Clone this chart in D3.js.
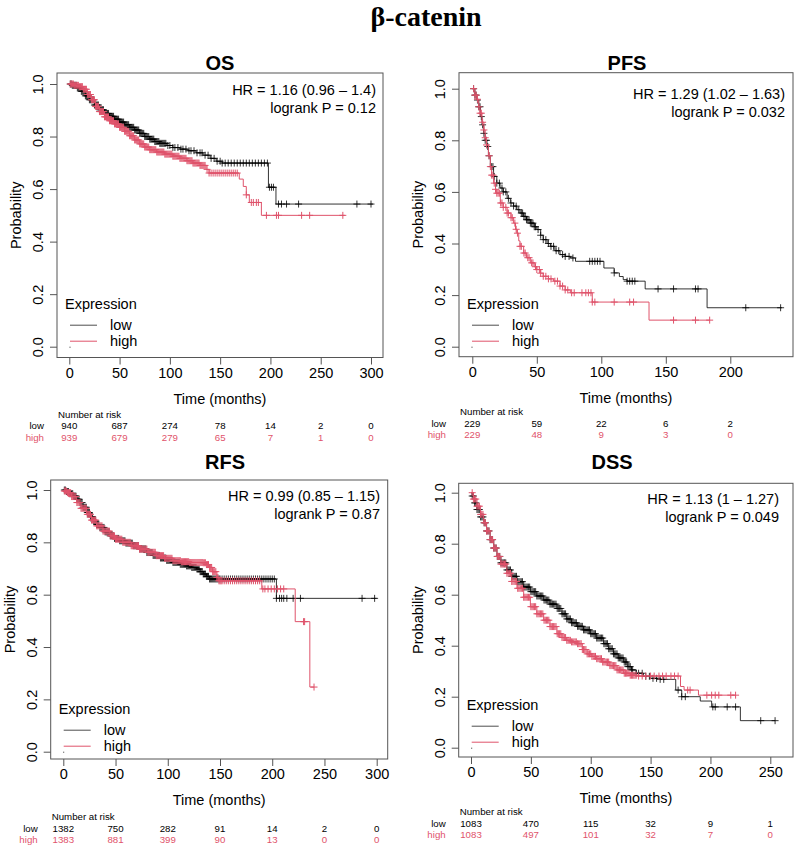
<!DOCTYPE html>
<html>
<head>
<meta charset="utf-8">
<script src="https://cdn.jsdelivr.net/npm/d3@7"></script>
<style>
  body { margin: 0; background: #fff; }
  svg { display: block; font-family: "Liberation Sans", Arial, sans-serif; }
</style>
</head>
<body>
<div id="chart"></div>
<script>
// ---- data ----
var yTicks = [0, 0.2, 0.4, 0.6, 0.8, 1.0];

// OS
var osTimes = [0, 50, 100, 150, 200, 250, 300];
var osRiskLow = [940, 687, 274, 78, 14, 2, 0];
var osRiskHigh = [939, 679, 279, 65, 7, 1, 0];
var osStats = ["HR = 1.16 (0.96 \u2013 1.4)", "logrank P = 0.12"];
var osLow = [[0,1],[3,0.995],[8,0.985],[12,0.972],[16,0.955],[20,0.94],[25,0.92],[30,0.902],[35,0.888],[40,0.877],[45,0.866],[50,0.855],[55,0.845],[60,0.835],[65,0.825],[70,0.812],[75,0.8],[80,0.79],[85,0.781],[90,0.774],[97,0.766],[103,0.758],[110,0.752],[118,0.746],[126,0.738],[133,0.729],[140,0.717],[146,0.706],[152,0.699],[198,0.607],[205.5,0.543],[302,0.543]];
var osHigh = [[0,1],[5,0.995],[10,0.99],[14,0.98],[18,0.96],[22,0.94],[26,0.915],[30,0.895],[35,0.875],[40,0.86],[45,0.848],[50,0.835],[55,0.82],[60,0.803],[65,0.787],[70,0.772],[75,0.76],[80,0.75],[87,0.741],[95,0.733],[103,0.725],[110,0.717],[117,0.708],[123,0.699],[130,0.69],[136,0.675],[139,0.661],[169,0.638],[173,0.61],[176,0.578],[179,0.549],[191,0.5],[274,0.5]];
var osLowCens = [1,2,3,4,5,6,7,8,9,10,11,12,13,14,15,16,17,18,19,20,21,22,23,24,25,26,27,28,29,30,31,32,33,34,35,36,37,38,39,40,41,42,43,44,45,46,47,48,49,50,51,52,53,54,55,56,57,58,59,60,61,62,63,64,65,66,67,68,69,70,71,72,73,74,75,76,77,78,79,80,81,82,83,84,85,86,87,88,89,90,91,92,93,94,95,96,98,100,103,105,108,111,113,116,119,121,124,127,130,132,135,138,141,144,147,150,152,155,158,161,164,167,170,173,176,179,182,185,188,191,194,197,199,201,203,208,211,216,228,286,300];
var osHighCens = [1,2,3,4,5,6,7,8,9,10,11,12,13,14,15,16,17,18,19,20,21,22,23,24,25,26,27,28,29,30,31,32,33,34,35,36,37,38,39,40,41,42,43,44,45,46,47,48,49,50,51,52,53,54,55,56,57,58,59,60,61,62,63,64,65,66,67,68,69,70,71,72,73,74,75,76,77,78,79,80,81,82,83,84,85,86,87,88,89,90,91,92,93,94,95,96,97,98,99,100,101,102,103,104,105,106,107,108,109,110,111,112,113,114,115,116,117,118,119,120,121,122,123,124,125,126,127,128,129,130,131,132,133,134,135,137,139,141,143,145,147,149,151,153,155,157,159,161,163,165,167,176,181,183,186,188,196,206,208,231,239,272];

// PFS
var pfsTimes = [0, 50, 100, 150, 200];
var pfsRiskLow = [229, 59, 22, 6, 2];
var pfsRiskHigh = [229, 48, 9, 3, 0];
var pfsStats = ["HR = 1.29 (1.02 \u2013 1.63)", "logrank P = 0.032"];
var pfsLow = [[0,1],[2,0.975],[3.6,0.956],[5,0.93],[6.2,0.892],[7.5,0.86],[8.8,0.827],[10,0.8],[11.4,0.776],[12.5,0.74],[14,0.698],[16.5,0.66],[19,0.634],[21.5,0.615],[24,0.6],[27,0.575],[29.5,0.557],[32,0.545],[34.6,0.531],[37,0.518],[39.8,0.505],[42,0.492],[45,0.479],[48,0.465],[50,0.454],[53,0.432],[55,0.415],[58,0.4],[60.5,0.389],[64,0.372],[68,0.357],[72,0.35],[76,0.344],[80,0.331],[102,0.305],[110,0.286],[114,0.272],[117,0.26],[120,0.254],[134,0.224],[182,0.151],[240,0.151]];
var pfsHigh = [[0,1],[2,0.975],[3.6,0.959],[5,0.93],[6,0.905],[7.5,0.87],[9,0.84],[10,0.81],[11,0.782],[12.5,0.74],[14,0.698],[15,0.665],[16.5,0.634],[18,0.61],[19,0.595],[21.7,0.557],[24,0.54],[27,0.518],[30,0.5],[32,0.479],[33.5,0.455],[34.6,0.44],[36,0.41],[37,0.389],[39.8,0.363],[42,0.345],[45,0.325],[48,0.31],[50,0.299],[53,0.285],[55,0.273],[59,0.263],[63,0.254],[68,0.235],[72,0.22],[76,0.209],[93,0.173],[137,0.103],[184,0.103]];
var pfsLowCens = [1,2,3,4,5,6,7,8,9,10,11,12,13,15,16,17,19,21,23,24,26,28,30,32,34,36,38,39,40,41,42,43,44,45,46,47,48,49,51,53,55,57,59,61,63,65,67,70,72,75,78,91,93,95,97,99,110,120,122,124,126,144,156,173,175,212,239];
var pfsHighCens = [1,2,3,4,5,6,7,8,9,10,11,13,14,15,16,17,18,19,20,21,22,23,24,26,27,28,30,31,33,34,35,37,38,40,41,43,44,46,47,49,50,52,53,55,57,59,61,64,66,68,70,72,74,77,79,85,88,90,92,93,95,110,122,125,156,173,184];

// RFS
var rfsTimes = [0, 50, 100, 150, 200, 250, 300];
var rfsRiskLow = [1382, 750, 282, 91, 14, 2, 0];
var rfsRiskHigh = [1383, 881, 399, 90, 13, 0, 0];
var rfsStats = ["HR = 0.99 (0.85 \u2013 1.15)", "logrank P = 0.87"];
var rfsLow = [[0,1],[3,0.994],[6,0.986],[9.6,0.977],[13,0.965],[16,0.952],[19,0.934],[22.3,0.914],[25.5,0.898],[28.7,0.882],[32,0.868],[35,0.857],[40,0.84],[44.7,0.825],[49,0.815],[54,0.806],[60,0.797],[67,0.787],[73,0.775],[80,0.761],[86,0.75],[92.6,0.74],[99,0.731],[105,0.723],[112,0.716],[118,0.71],[123,0.704],[127.7,0.698],[131,0.688],[134,0.679],[137,0.67],[140,0.66],[204,0.586],[300,0.586]];
var rfsHigh = [[0,0.996],[4,0.99],[8,0.975],[12.8,0.952],[17,0.93],[22.3,0.907],[27,0.885],[32,0.863],[38,0.843],[44.7,0.825],[50,0.812],[57,0.8],[65,0.787],[73,0.774],[81,0.762],[89,0.749],[97,0.739],[105,0.73],[113,0.726],[121,0.723],[134,0.722],[137,0.715],[140,0.704],[143,0.688],[147,0.666],[149,0.653],[190,0.622],[222,0.497],[236,0.247],[240,0.247]];
var rfsLowCens = [1,2,3,4,5,6,7,8,9,10,11,12,13,14,15,16,17,18,19,20,21,22,23,24,25,26,27,28,29,30,31,32,33,34,35,36,37,38,39,40,41,42,43,44,45,46,47,48,49,50,51,52,53,54,55,56,57,58,59,60,61,62,63,64,65,66,67,68,69,70,71,72,73,74,75,76,77,78,79,80,81,82,83,84,85,86,87,88,89,90,91,92,93,94,95,96,97,98,99,100,101,102,103,104,105,106,107,108,109,110,111,112,113,114,115,116,117,118,119,120,121,122,123,124,125,126,127,128,129,130,131,132,133,134,135,136,137,138,139,140,141,142,143,144,145,146,147,148,149,150,152,154,156,158,160,162,164,166,168,170,172,174,176,178,180,182,184,186,188,190,192,194,196,198,200,202,204,207,209,211,214,220,227,286,298];
var rfsHighCens = [1,2,3,4,5,6,7,8,9,10,11,12,13,14,15,16,17,18,19,20,21,22,23,24,25,26,27,28,29,30,31,32,33,34,35,36,37,38,39,40,41,42,43,44,45,46,47,48,49,50,51,52,53,54,55,56,57,58,59,60,61,62,63,64,65,66,67,68,69,70,71,72,73,74,75,76,77,78,79,80,81,82,83,84,85,86,87,88,89,90,91,92,93,94,95,96,97,98,99,100,101,102,103,104,105,106,107,108,109,110,111,112,113,114,115,116,117,118,119,120,121,122,123,124,125,126,127,128,129,130,131,132,133,134,135,136,137,138,139,140,141,142,143,144,145,146,147,148,149,150,151,152,154,156,158,160,162,164,166,168,170,172,174,176,178,180,182,184,186,188,191,193,196,199,202,205,208,211,230,231,240];

// DSS
var dssTimes = [0, 50, 100, 150, 200, 250];
var dssRiskLow = [1083, 470, 115, 32, 9, 1];
var dssRiskHigh = [1083, 497, 101, 32, 7, 0];
var dssStats = ["HR = 1.13 (1 \u2013 1.27)", "logrank P = 0.049"];
var dssLow = [[0,1],[1,0.987],[3,0.96],[5,0.934],[8,0.905],[10.6,0.882],[13,0.85],[16,0.816],[19,0.783],[21.7,0.75],[25,0.725],[30,0.697],[34,0.672],[38.4,0.651],[44,0.63],[49.6,0.612],[55,0.595],[60.7,0.579],[66,0.563],[71.8,0.546],[76,0.525],[80,0.505],[84,0.49],[88.5,0.476],[94,0.462],[99.7,0.447],[105,0.43],[110.8,0.408],[115,0.388],[119,0.368],[123,0.352],[127.5,0.336],[131,0.318],[134,0.305],[138,0.292],[144,0.28],[150,0.272],[158,0.268],[171,0.226],[176,0.2],[191.5,0.183],[201,0.16],[225,0.106],[254,0.106]];
var dssHigh = [[0,1],[2,0.975],[5,0.947],[8,0.915],[10.6,0.882],[13,0.85],[16,0.816],[19,0.783],[21.7,0.75],[25,0.72],[30,0.684],[34,0.652],[38.4,0.625],[44,0.59],[49.6,0.553],[55,0.525],[60.7,0.5],[66,0.475],[71.8,0.447],[76,0.432],[80,0.421],[84,0.415],[88.5,0.408],[93,0.385],[97,0.368],[101,0.358],[105,0.349],[110,0.336],[116,0.322],[122,0.305],[127.5,0.292],[133,0.284],[138.6,0.281],[175,0.24],[178,0.226],[190,0.206],[221,0.206]];
var dssLowCens = [1,2,3,4,5,6,7,8,9,10,11,12,13,14,15,16,17,18,19,20,21,22,23,24,25,26,27,28,29,30,31,32,33,34,35,36,37,38,39,40,41,42,43,44,45,46,47,48,49,50,51,52,53,54,55,56,57,58,59,60,61,62,63,64,65,66,67,68,69,70,71,72,73,74,75,76,77,78,79,80,81,82,83,84,85,86,87,88,89,90,91,92,93,94,95,96,97,98,99,100,101,102,103,104,105,106,107,108,109,110,111,112,113,114,115,116,117,118,119,120,121,122,123,124,125,126,127,128,129,130,131,132,133,134,135,138,140,143,146,149,152,155,158,161,173,176,179,202,204,214,221,242,254];
var dssHighCens = [1,2,3,4,5,6,7,8,9,10,11,12,13,14,15,16,17,18,19,20,21,22,23,24,25,26,27,28,29,30,31,32,33,34,35,36,37,38,39,40,41,42,43,44,45,46,47,48,49,50,51,52,53,54,55,56,57,58,59,60,61,62,63,64,65,66,67,68,69,70,71,72,73,74,75,76,77,78,79,80,81,82,83,84,85,86,87,88,89,90,91,92,93,94,95,96,97,98,99,100,101,102,103,104,105,106,107,108,109,110,111,112,113,114,115,116,117,118,119,120,121,122,123,124,125,126,127,128,129,130,131,132,133,134,135,136,137,138,140,143,146,150,153,157,160,163,167,170,173,181,183,197,201,204,207,217,221];

// ---- layout ----
var LOW_COL = "#000000";
var HIGH_COL = "#DF536B";
var FONT = 14.5;

var panels = [
    { title: "OS", titleX: 220, titleY: 70, box: [57, 73, 383, 357.5], xPx: [69.3, 371], xDom: [0, 300], yPx: [346.7, 84],
      hrX: 376, hrY: 90, riskY: 414.5,
      times: osTimes, riskLow: osRiskLow, riskHigh: osRiskHigh, stats: osStats,
      low: osLow, high: osHigh, lowCens: osLowCens, highCens: osHighCens },
    { title: "PFS", titleX: 627, titleY: 70, box: [459, 72.7, 793, 356.7], xPx: [472.3, 730.3], xDom: [0, 200], yPx: [346.7, 88.7],
      hrX: 785, hrY: 93.5, riskY: 412,
      times: pfsTimes, riskLow: pfsRiskLow, riskHigh: pfsRiskHigh, stats: pfsStats,
      low: pfsLow, high: pfsHigh, lowCens: pfsLowCens, highCens: pfsHighCens },
    { title: "RFS", titleX: 225, titleY: 469, box: [50.7, 480, 387.7, 759], xPx: [63.3, 376.7], xDom: [0, 300], yPx: [751.7, 490],
      hrX: 380, hrY: 496, riskY: 817,
      times: rfsTimes, riskLow: rfsRiskLow, riskHigh: rfsRiskHigh, stats: rfsStats,
      low: rfsLow, high: rfsHigh, lowCens: rfsLowCens, highCens: rfsHighCens },
    { title: "DSS", titleX: 612, titleY: 469, box: [458.7, 483.3, 793, 757], xPx: [471, 770.3], xDom: [0, 250], yPx: [747.7, 492.7],
      hrX: 779, hrY: 498.5, riskY: 812,
      times: dssTimes, riskLow: dssRiskLow, riskHigh: dssRiskHigh, stats: dssStats,
      low: dssLow, high: dssHigh, lowCens: dssLowCens, highCens: dssHighCens }
];

var svg = d3.select("#chart")
    .append("svg")
    .attr("width", 794)
    .attr("height", 848);

svg.append("rect").attr("width", 794).attr("height", 848).attr("fill", "#fff");

// main title
svg.append("text")
    .attr("x", 426)
    .attr("y", 26)
    .attr("text-anchor", "middle")
    .style("font-family", "'Liberation Serif', 'Times New Roman', serif")
    .style("font-weight", "bold")
    .style("font-size", "28px")
    .text("\u03b2-catenin");

panels.forEach(draw_panel);

function surv_at(curve, t) {
    var s = curve[0][1];
    for (var i = 0; i < curve.length; i++) {
        if (curve[i][0] <= t) s = curve[i][1];
    }
    return s;
}

function draw_panel(p) {
    var left = p.box[0], top = p.box[1], right = p.box[2], bottom = p.box[3];
    var x = d3.scaleLinear().domain(p.xDom).range(p.xPx);
    var y = d3.scaleLinear().domain([0, 1]).range(p.yPx);
    var g = svg.append("g");

    // title
    g.append("text")
        .attr("x", p.titleX)
        .attr("y", p.titleY)
        .attr("text-anchor", "middle")
        .style("font-weight", "bold")
        .style("font-size", "20px")
        .text(p.title);

    // x axis
    var xAxis = g.append("g")
        .attr("transform", "translate(0," + bottom + ")")
        .call(d3.axisBottom(x).tickValues(p.times).tickSize(7).tickPadding(3).tickFormat(d3.format("d")));
    xAxis.select(".domain").remove();
    xAxis.selectAll("line").attr("stroke", "#555");
    xAxis.selectAll("text").style("font-size", FONT + "px").attr("fill", "#000").attr("y", 10).attr("dy", "0.72em");

    // y axis, labels turned as in R
    var yAxis = g.append("g")
        .attr("transform", "translate(" + left + ",0)")
        .call(d3.axisLeft(y).tickValues(yTicks).tickSize(7).tickFormat(d3.format(".1f")));
    yAxis.select(".domain").remove();
    yAxis.selectAll("line").attr("stroke", "#555");
    yAxis.selectAll("text")
        .style("font-size", FONT + "px")
        .attr("fill", "#000")
        .attr("text-anchor", "middle")
        .attr("transform", "rotate(-90)")
        .attr("x", 0)
        .attr("y", -19)
        .attr("dy", "0.36em");

    // axis titles
    g.append("text")
        .attr("transform", "translate(" + (left - 41) + "," + ((top + bottom) / 2) + ") rotate(-90)")
        .attr("text-anchor", "middle")
        .attr("dy", "0.36em")
        .style("font-size", FONT + "px")
        .text("Probability");
    g.append("text")
        .attr("x", (left + right) / 2)
        .attr("y", bottom + 41)
        .attr("text-anchor", "middle")
        .attr("dy", "0.36em")
        .style("font-size", FONT + "px")
        .text("Time (months)");

    // box
    g.append("rect")
        .attr("x", left).attr("y", top)
        .attr("width", right - left).attr("height", bottom - top)
        .attr("fill", "none")
        .attr("stroke", "#555")
        .attr("stroke-width", 1);

    // curves
    var line = d3.line()
        .curve(d3.curveStepAfter)
        .x(function (d) { return x(d[0]); })
        .y(function (d) { return y(d[1]); });

    var groups = [
        { curve: p.low, cens: p.lowCens, color: LOW_COL, opacity: 0.8 },
        { curve: p.high, cens: p.highCens, color: HIGH_COL, opacity: 1 }
    ];
    groups.forEach(function (s) {
        g.append("path")
            .datum(s.curve)
            .attr("d", line)
            .attr("fill", "none")
            .attr("stroke", s.color)
            .attr("stroke-opacity", s.opacity)
            .attr("stroke-width", 1);
        g.append("g")
            .selectAll("path")
            .data(s.cens)
            .enter()
            .append("path")
            .attr("d", function (t) {
                var cx = x(t), cy = y(surv_at(s.curve, t));
                return "M" + (cx - 3.5) + "," + cy + "H" + (cx + 3.5) + "M" + cx + "," + (cy - 3.5) + "V" + (cy + 3.5);
            })
            .attr("stroke", s.color)
            .attr("stroke-opacity", s.opacity)
            .attr("stroke-width", 1);
    });

    // HR and logrank text
    p.stats.forEach(function (txt, i) {
        g.append("text")
            .attr("x", p.hrX)
            .attr("y", p.hrY + i * 18)
            .attr("text-anchor", "end")
            .attr("dy", "0.36em")
            .style("font-size", FONT + "px")
            .text(txt);
    });

    // legend
    var y0 = y(0);
    g.append("text")
        .attr("x", left + 8)
        .attr("y", y0 - 43)
        .attr("dy", "0.36em")
        .style("font-size", FONT + "px")
        .text("Expression");
    [["low", LOW_COL, y0 - 21.5, 0.7], ["high", HIGH_COL, y0 - 5.5, 1]].forEach(function (it) {
        g.append("line")
            .attr("x1", left + 13).attr("x2", left + 40)
            .attr("y1", it[2]).attr("y2", it[2])
            .attr("stroke", it[1])
            .attr("stroke-opacity", it[3])
            .attr("stroke-width", 1);
        g.append("text")
            .attr("x", left + 53)
            .attr("y", it[2])
            .attr("dy", "0.36em")
            .style("font-size", FONT + "px")
            .text(it[0]);
    });
    g.append("rect")
        .attr("x", left + 12.5).attr("y", y0)
        .attr("width", 1).attr("height", 1)
        .attr("fill", "#333");

    // number at risk table
    g.append("text")
        .attr("x", left + 1)
        .attr("y", p.riskY)
        .attr("dy", "0.36em")
        .style("font-size", "9.7px")
        .text("Number at risk");
    [["low", p.riskLow, LOW_COL, 11.5], ["high", p.riskHigh, HIGH_COL, 23]].forEach(function (row) {
        g.append("text")
            .attr("x", left - 13)
            .attr("y", p.riskY + row[3])
            .attr("dy", "0.36em")
            .attr("text-anchor", "end")
            .attr("fill", row[2])
            .style("font-size", "9.7px")
            .text(row[0]);
        g.append("g")
            .selectAll("text")
            .data(row[1])
            .enter()
            .append("text")
            .attr("x", function (d, i) { return x(p.times[i]); })
            .attr("y", p.riskY + row[3])
            .attr("dy", "0.36em")
            .attr("text-anchor", "middle")
            .attr("fill", row[2])
            .style("font-size", "9.7px")
            .text(function (d) { return d; });
    });
}
</script>
</body>
</html>
